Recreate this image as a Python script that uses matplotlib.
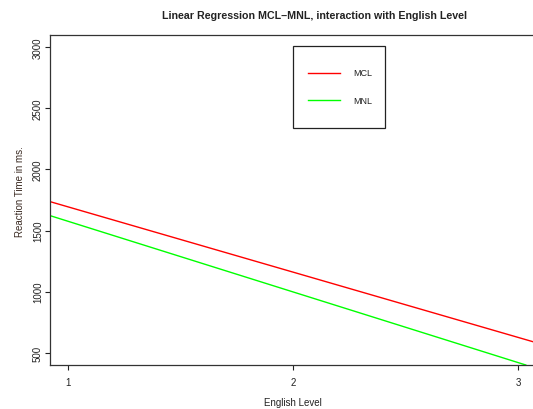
import numpy as np
import matplotlib
matplotlib.use("Agg")
import matplotlib.pyplot as plt
from matplotlib.patches import Rectangle
from matplotlib.lines import Line2D

plt.rcParams['font.family'] = ['Liberation Sans', 'DejaVu Sans']

## fitted lines (value at English Level 1 and 3)
levels = [1, 3]
mcl_rt = [1694, 626]
mnl_rt = [1576, 420]
series_names = ["MCL", "MNL"]
series_colors = ["#ff0000", "#00ff00"]

x_ticks = [1, 2, 3]
y_ticks = [500, 1000, 1500, 2000, 2500, 3000]

txt = "#222222"

fig = plt.figure(figsize=(5.33, 4.10), dpi=100)
ax = fig.add_axes([50/533, 44/410, 486/533, 330/410])

for ys, c in zip([mcl_rt, mnl_rt], series_colors):
    ax.axline((levels[0], ys[0]), (levels[1], ys[1]), color=c, lw=1.0)

ax.set_xlim(0.92, 3.08)
ax.set_ylim(400, 3100)
ax.set_xticks(x_ticks)
ax.set_yticks(y_ticks)
ax.tick_params(axis='x', length=3.6, width=0.8, pad=5.0, labelsize=7, colors=txt)
ax.tick_params(axis='y', length=3.6, width=0.8, pad=1.5, labelsize=7, colors=txt)
for lab in ax.get_yticklabels():
    lab.set_rotation(90)
    lab.set_va('center')
for s in ax.spines.values():
    s.set_linewidth(0.9)
    s.set_color("#333333")

ax.set_xlabel("English Level", fontsize=7, color=txt)
ax.xaxis.label.set_va('center')
ax.xaxis.set_label_coords(0.5, -0.112)
ax.set_ylabel("Reaction Time in ms.", fontsize=7, color="#3a2a22")
ax.yaxis.label.set_va('center')
ax.yaxis.set_label_coords(-0.062, 0.527)

fig.text(314/533, 1 - 16/410, "Linear Regression MCL\u2013MNL, interaction with English Level",
         ha='center', va='center', fontsize=7.7, fontweight='bold', color=txt)

## legend box drawn R-style
ax.add_patch(Rectangle((0.5, 0.718), 0.189, 0.249, transform=ax.transAxes,
                       fill=False, ec="#222222", lw=0.9))
for i, (name, c) in enumerate(zip(series_names, series_colors)):
    yy = 0.885 - i*0.082
    ax.add_line(Line2D([0.531, 0.597], [yy, yy], transform=ax.transAxes, color=c, lw=1.0))
    ax.text(0.623, yy, name, transform=ax.transAxes, fontsize=6.5, va='center', color=txt)

fig.savefig("out.png", dpi=100)
